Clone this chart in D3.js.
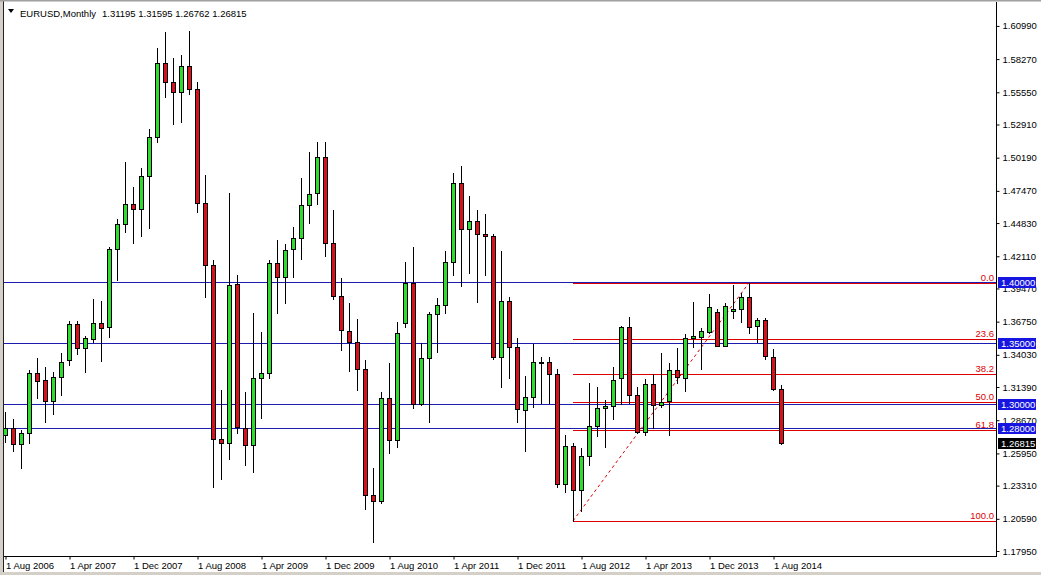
<!DOCTYPE html>
<html><head><meta charset="utf-8">
<script src="https://cdn.jsdelivr.net/npm/d3@7"></script>
<style>
html,body{margin:0;padding:0;background:#fff;}
svg{display:block;}
text{font-family:"Liberation Sans",Arial,sans-serif;font-size:9.5px;}
</style></head><body>
<svg id="c" width="1041" height="575"></svg>
<script>
// ---- data ----
const symbolName = "EURUSD,Monthly";
const headerValues = ["1.31195", "1.31595", "1.26762", "1.26815"];
const firstMonth = new Date(2006, 7, 1); // Aug 2006
const openP = [
 1.2745,1.2800,1.2670,1.2760,1.3252,1.3197,1.3027,1.3219,1.3361,1.3653,1.3457,1.3530,
 1.3661,1.3629,1.4268,1.4473,1.4637,1.4596,1.4872,1.5191,1.5793,1.5642,1.5560,1.5770,
 1.5579,1.4645,1.4139,1.2710,1.2678,1.3981,1.2801,1.2664,1.3211,1.3252,1.4153,1.4038,
 1.4268,1.4358,1.4629,1.4727,1.5022,1.4317,1.3885,1.3601,1.3508,1.3290,1.2251,1.2202,
 1.3046,1.2705,1.3661,1.3989,1.3000,1.3375,1.3735,1.3811,1.4166,1.4809,1.4432,1.4500,
 1.4391,1.4377,1.3383,1.3847,1.3465,1.2951,1.3060,1.3340,1.3342,1.3246,1.2342,1.2656,
 1.2295,1.2574,1.2820,1.2965,1.2984,1.3211,1.3628,1.3070,1.2773,1.3161,1.2992,1.3025,
 1.3279,1.3211,1.3538,1.3552,1.3588,1.3751,1.3478,1.3760,1.3776,1.3875,1.3639,1.3689,
 1.3388,1.31195];
const highP = [
 1.2937,1.2875,1.2787,1.3279,1.3375,1.3306,1.3265,1.3416,1.3680,1.3680,1.3557,1.3861,
 1.3844,1.4288,1.4514,1.4986,1.4776,1.4932,1.5251,1.5915,1.6046,1.5839,1.5861,1.6057,
 1.5642,1.4877,1.4180,1.3115,1.4732,1.4057,1.3101,1.3749,1.3593,1.4180,1.4344,1.4309,
 1.4453,1.4852,1.5069,1.5150,1.5150,1.4590,1.4030,1.3825,1.3694,1.3361,1.2473,1.3101,
 1.3334,1.3675,1.4166,1.4289,1.3503,1.3757,1.3866,1.4254,1.4896,1.4951,1.4705,1.4590,
 1.4555,1.4391,1.4254,1.3880,1.3543,1.3230,1.3489,1.3383,1.3383,1.3284,1.2746,1.2678,
 1.2637,1.3170,1.3137,1.3033,1.3306,1.3640,1.3711,1.3137,1.3208,1.3246,1.3416,1.3339,
 1.3457,1.3574,1.3834,1.3620,1.3902,1.3776,1.3825,1.3975,1.3907,1.3993,1.3702,1.3702,
 1.3448,1.31595];
const lowP = [
 1.2690,1.2617,1.2478,1.2678,1.3052,1.2855,1.2915,1.3074,1.3320,1.3407,1.3260,1.3510,
 1.3352,1.3552,1.4016,1.4407,1.4317,1.4377,1.4445,1.5150,1.5519,1.5293,1.5314,1.5538,
 1.4576,1.3880,1.2322,1.2382,1.2546,1.2760,1.2500,1.2445,1.2883,1.3211,1.3749,1.3831,
 1.4044,1.4186,1.4486,1.4639,1.4213,1.3858,1.3443,1.3270,1.3115,1.2136,1.1871,1.2191,
 1.2596,1.2650,1.3634,1.2965,1.2990,1.2855,1.3429,1.3743,1.4057,1.3967,1.4076,1.3839,
 1.4057,1.3366,1.3142,1.3211,1.2855,1.2617,1.2978,1.3005,1.3005,1.2317,1.2281,1.2042,
 1.2126,1.2500,1.2738,1.2650,1.2875,1.3000,1.3011,1.2760,1.2742,1.2801,1.2978,1.2746,
 1.3170,1.3107,1.3470,1.3290,1.3580,1.3478,1.3478,1.3708,1.3675,1.3585,1.3511,1.3366,
 1.3118,1.26762];
const closeP = [
 1.2805,1.2670,1.2760,1.3252,1.3191,1.3027,1.3219,1.3347,1.3653,1.3457,1.3538,1.3661,
 1.3626,1.4268,1.4473,1.4637,1.4596,1.4872,1.5186,1.5793,1.5642,1.5560,1.5770,1.5579,
 1.4645,1.4139,1.2710,1.2678,1.3975,1.2809,1.2664,1.3211,1.3252,1.4153,1.4038,1.4262,
 1.4358,1.4629,1.4719,1.5022,1.4317,1.3885,1.3607,1.3508,1.3284,1.2251,1.2202,1.3046,
 1.2705,1.3585,1.3989,1.3000,1.3375,1.3738,1.3811,1.4166,1.4809,1.4432,1.4500,1.4391,
 1.4377,1.3383,1.3847,1.3465,1.2956,1.3060,1.3347,1.3347,1.3246,1.2342,1.2656,1.2295,
 1.2574,1.2820,1.2970,1.2984,1.3197,1.3628,1.3070,1.2773,1.3161,1.2992,1.3014,1.3279,
 1.3219,1.3538,1.3557,1.3598,1.3792,1.3478,1.3803,1.3776,1.3875,1.3629,1.3689,1.3393,
 1.3123,1.26815];
const xTickLabels = ["1 Aug 2006","1 Apr 2007","1 Dec 2007","1 Aug 2008","1 Apr 2009","1 Dec 2009",
 "1 Aug 2010","1 Apr 2011","1 Dec 2011","1 Aug 2012","1 Apr 2013","1 Dec 2013","1 Aug 2014"];
const xTickIndex = [0,8,16,24,32,40,48,56,64,72,80,88,96];
const yTickValues = [1.60990,1.58270,1.55550,1.52910,1.50190,1.47470,1.44830,1.42110,1.39470,
 1.36750,1.34030,1.31390,1.28670,1.25950,1.23310,1.20590,1.17950];
const levelLines = [1.40000, 1.35000, 1.30000, 1.28000];
const currentPrice = 1.26815;
const fibLevels = [0.0, 23.6, 38.2, 50.0, 61.8, 100.0];
const fibLowIndex = 71;  // Jul 2012 low
const fibHighIndex = 93; // May 2014 high

// ---- chart ----
const months = d3.timeMonth.range(firstMonth, d3.timeMonth.offset(firstMonth, openP.length));
const candles = months.map((m, i) => ({i, m, o: openP[i], h: highP[i], l: lowP[i], c: closeP[i]}));

const L = 4, R = 996, T = 2, B = 556;
const x = d3.scaleLinear().domain([-0.125, 123.875]).range([L, R]);
const y = d3.scaleLinear().domain([1.175410, 1.621311]).range([556, 12]);
const crisp = v => Math.round(v) + 0.5;

const svg = d3.select("#c");
svg.append("rect").attr("width", 1041).attr("height", 575).attr("fill", "#fff");
svg.append("defs").append("clipPath").attr("id", "plot")
  .append("rect").attr("x", L).attr("y", T).attr("width", R - L).attr("height", B - T);

const plot = svg.append("g").attr("clip-path", "url(#plot)");

// blue horizontal levels
plot.selectAll("line.lvl").data(levelLines).join("line")
  .attr("x1", L).attr("x2", R)
  .attr("y1", d => crisp(y(d))).attr("y2", d => crisp(y(d)))
  .attr("stroke", "#1c1cb0").attr("stroke-width", 1);

// fibonacci
const fibLow = lowP[fibLowIndex], fibHigh = highP[fibHighIndex];
const fibPrice = lv => fibHigh - (fibHigh - fibLow) * lv / 100;
const fibColor = "#dc0000";
plot.selectAll("line.fib").data(fibLevels).join("line")
  .attr("x1", Math.round(x(fibLowIndex))).attr("x2", R)
  .attr("y1", d => crisp(y(fibPrice(d)))).attr("y2", d => crisp(y(fibPrice(d))))
  .attr("stroke", fibColor).attr("stroke-width", 1);
plot.append("line")
  .attr("x1", x(fibLowIndex)).attr("y1", y(fibLow))
  .attr("x2", x(fibHighIndex)).attr("y2", y(fibHigh))
  .attr("stroke", fibColor).attr("stroke-width", 1).attr("stroke-dasharray", "3,3");
plot.selectAll("text.fib").data(fibLevels).join("text")
  .attr("x", 994).attr("y", d => Math.round(y(fibPrice(d))) - 2)
  .attr("text-anchor", "end").attr("fill", fibColor)
  .text(d => d.toFixed(1));

// candles
const cg = plot.append("g");
cg.selectAll("line.wick").data(candles).join("line")
  .attr("x1", d => Math.round(x(d.i)) + 0.5).attr("x2", d => Math.round(x(d.i)) + 0.5)
  .attr("y1", d => Math.round(y(d.h))).attr("y2", d => Math.round(y(d.l)) + 1)
  .attr("stroke", "#000").attr("stroke-width", 1);
cg.selectAll("rect.body").data(candles).join("rect")
  .attr("x", d => Math.round(x(d.i)) - 1.5)
  .attr("y", d => crisp(y(Math.max(d.o, d.c))))
  .attr("width", 4)
  .attr("height", d => Math.max(1, Math.round(y(Math.min(d.o, d.c))) - Math.round(y(Math.max(d.o, d.c)))))
  .attr("fill", d => d.c >= d.o ? "#2edc2e" : "#d8121c")
  .attr("stroke", "#000").attr("stroke-width", 1);

// axes
const yAxis = d3.axisRight(y).tickValues(yTickValues).tickSize(3).tickSizeOuter(0)
  .tickPadding(3).tickFormat(d3.format(".5f"));
const gy = svg.append("g").attr("transform", `translate(${R + 0.5},0)`).call(yAxis);
gy.select(".domain").remove();
gy.selectAll("text").attr("fill", "#000").style("font-size", "9.5px")
  .style("font-family", "'Liberation Sans', Arial, sans-serif");
gy.selectAll("line").attr("stroke", "#000");

const xAxis = d3.axisBottom(x).tickValues(xTickIndex).tickSize(3).tickSizeOuter(0)
  .tickPadding(3).tickFormat((d, i) => xTickLabels[i]);
const gx = svg.append("g").attr("transform", `translate(0.5,${B + 0.5})`).call(xAxis);
gx.select(".domain").remove();
gx.selectAll("text").attr("text-anchor", "start").attr("fill", "#000").style("font-size", "9.5px")
  .style("font-family", "'Liberation Sans', Arial, sans-serif");
gx.selectAll("line").attr("stroke", "#000");

// frame lines
svg.append("line").attr("x1", R + 0.5).attr("x2", R + 0.5).attr("y1", T).attr("y2", B + 1).attr("stroke", "#000");
svg.append("line").attr("x1", L).attr("x2", R + 1).attr("y1", B + 0.5).attr("y2", B + 0.5).attr("stroke", "#000");
svg.append("rect").attr("x", 0).attr("y", 0).attr("width", 3).attr("height", 575).attr("fill", "#d4d0c8");
svg.append("line").attr("x1", 3.5).attr("x2", 3.5).attr("y1", 1).attr("y2", 575).attr("stroke", "#222");
svg.append("rect").attr("x", 0).attr("y", 0).attr("width", 1041).attr("height", 1.5).attr("fill", "#a0a0a0");
svg.append("rect").attr("x", 0).attr("y", 572).attr("width", 1041).attr("height", 3).attr("fill", "#d4d0c8");

// price labels on axis
const tags = levelLines.map(p => ({p, bg: "#1616e0"})).concat([{p: currentPrice, bg: "#000"}]);
const tg = svg.selectAll("g.tag").data(tags).join("g")
  .attr("transform", d => `translate(998,${Math.round(y(d.p))})`);
tg.append("rect").attr("x", 0).attr("y", -5).attr("width", 38).attr("height", 11).attr("fill", d => d.bg);
tg.append("text").attr("x", 3).attr("y", 4).attr("fill", "#fff").text(d => d3.format(".5f")(d.p));

// header
svg.append("path").attr("d", "M8,9 L14,9 L11,13 Z").attr("fill", "#000");
svg.append("text").attr("x", 20).attr("y", 16.5).attr("fill", "#000").text(symbolName);
svg.append("text").attr("x", 102).attr("y", 16.5).attr("fill", "#000").text(headerValues.join(" "));
</script>
</body></html>
